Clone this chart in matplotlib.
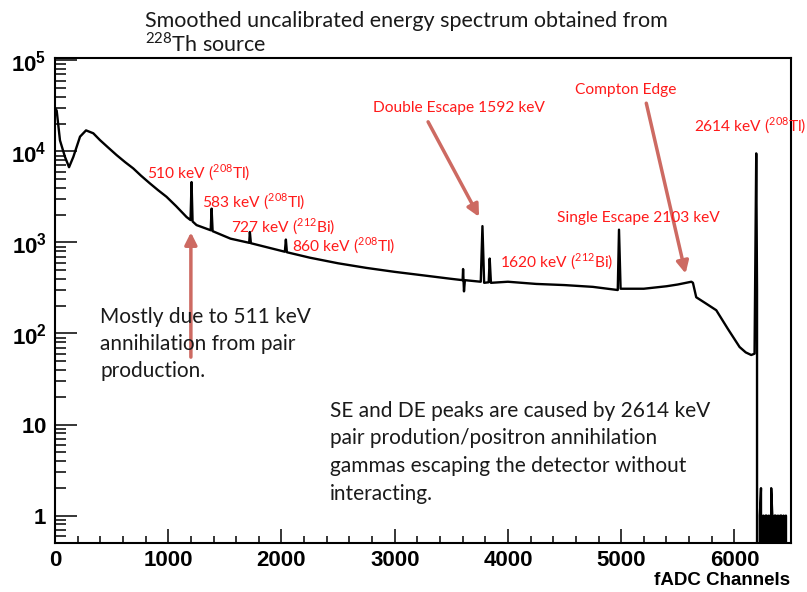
import numpy as np
import matplotlib
matplotlib.use("Agg")
import matplotlib.pyplot as plt
from matplotlib.ticker import FixedLocator, FixedFormatter, MultipleLocator

plt.rcParams['mathtext.fontset'] = 'custom'
plt.rcParams['mathtext.rm'] = 'Lato'
plt.rcParams['mathtext.bf'] = 'Liberation Sans:bold'

# ---------------- data ----------------
channels = [0, 15, 44, 88, 124, 162, 221, 274, 338, 397, 470, 544, 620, 691,
            760, 838, 910, 985, 1070, 1162, 1197, 1206, 1215, 1250, 1375,
            1383, 1392, 1550, 1715, 1721, 1730, 2030, 2039, 2048, 2250, 2500,
            2750, 3000, 3250, 3486, 3600, 3604, 3612, 3620, 3760, 3775, 3790,
            3830, 3839, 3850, 4000, 4250, 4500, 4750, 4970, 4981, 4995, 5200,
            5400, 5500, 5620, 5634, 5663, 5750, 5840, 5943, 6046, 6100, 6149,
            6178, 6186, 6193, 6200, 6206]
counts = [30000, 28000, 13200, 8700, 6700, 8700, 14500, 17000, 15800, 13300,
          11000, 9100, 7600, 6500, 5400, 4450, 3750, 3170, 2500, 1900, 1760,
          4600, 1700, 1550, 1360, 2350, 1330, 1100, 990, 1300, 980, 790, 1075,
          780, 680, 590, 525, 475, 435, 400, 385, 510, 290, 385, 370, 1510,
          360, 365, 665, 360, 370, 350, 340, 325, 300, 1380, 310, 310, 330,
          345, 370, 360, 250, 213, 180, 112, 71, 62, 58, 60, 900, 9500, 300, 0]

# single counts past the 2614 keV peak
tail_channels = [6215, 6225, 6235, 6245, 6255, 6265, 6275, 6285, 6295, 6305,
                 6315, 6325, 6335, 6345, 6355, 6365, 6375, 6385, 6395, 6405,
                 6415, 6425, 6435, 6445, 6455, 6465]
tail_counts = [0, 1, 2, 0, 1, 0, 1, 1, 0, 1, 0, 2, 1, 0, 1, 1, 0, 1, 0, 1,
               1, 0, 1, 0, 1, 0]

y_ticks = [1, 10, 100, 1000, 10000, 100000]
y_tick_labels = [r'$\mathbf{1}$', r'$\mathbf{10}$', r'$\mathbf{10^{2}}$',
                 r'$\mathbf{10^{3}}$', r'$\mathbf{10^{4}}$', r'$\mathbf{10^{5}}$']

red_labels = [("510 keV ($^{208}$Tl)", 147, 178),
              ("583 keV ($^{208}$Tl)", 202, 207),
              ("727 keV ($^{212}$Bi)", 231, 232),
              ("860 keV ($^{208}$Tl)", 292, 251),
              ("Double Escape 1592 keV", 373, 112),
              ("Compton Edge", 575, 94),
              ("2614 keV ($^{208}$Tl)", 694, 131),
              ("Single Escape 2103 keV", 557, 222),
              ("1620 keV ($^{212}$Bi)", 500, 267)]

note1 = ["Mostly due to 511 keV", "annihilation from pair", "production."]
note2 = ["SE and DE peaks are caused by 2614 keV",
         "pair prodution/positron annihilation",
         "gammas escaping the detector without",
         "interacting."]
title_lines = ["Smoothed uncalibrated energy spectrum obtained from",
               "$^{228}$Th source"]

# arrows: (tail channel, tail count) -> (head channel, head count)
arrows = [((1200, 55), (1200, 1290)),
          ((3295, 21100), (3745, 1910)),
          ((5222, 33800), (5569, 455))]

W, H = 807, 592
fig = plt.figure(figsize=(W / 100, H / 100), dpi=100)
ax = fig.add_axes([55 / W, 1 - 543 / H, (791 - 55) / W, (543 - 58) / H])

x = channels + tail_channels
y = counts + tail_counts
ax.plot(x, y, color='black', lw=1.7)

ax.set_yscale('log', nonpositive='clip')
ax.set_xlim(0, 6500)
ax.set_ylim(0.5, 1.06e5)

ax.yaxis.set_major_locator(FixedLocator(y_ticks))
ax.yaxis.set_major_formatter(FixedFormatter(y_tick_labels))
minors = [m * 10.0 ** e for e in range(-1, 5) for m in range(2, 10)]
ax.yaxis.set_minor_locator(FixedLocator([v for v in minors if v > 0.5]))
ax.yaxis.set_minor_formatter(FixedFormatter([]))
ax.xaxis.set_major_locator(MultipleLocator(1000))
ax.xaxis.set_minor_locator(MultipleLocator(200))

ax.tick_params(axis='y', which='major', direction='in', length=16, width=1.1,
               labelsize=16, pad=6)
ax.tick_params(axis='y', which='minor', direction='in', length=8, width=1.1)
ax.tick_params(axis='x', which='major', direction='in', length=10, width=1.1,
               labelsize=16, pad=5)
ax.tick_params(axis='x', which='minor', direction='in', length=5, width=1.1)
for lab in ax.get_xticklabels():
    lab.set_fontfamily('Liberation Sans')
    lab.set_fontweight('bold')
for s in ax.spines.values():
    s.set_linewidth(1.5)

fig.text(790 / W, 1 - 585 / H, "fADC Channels", ha='right', va='baseline',
         fontsize=13.5, fontweight='bold', family='Liberation Sans')

def px(xp, yp):
    return xp / W, 1 - yp / H

for i, line in enumerate(title_lines):
    fig.text(*px(145, 26.7 + 25 * i), line, fontsize=15.5, family='Lato',
             va='baseline', color='#1a1a1a')

for txt, xp, yp in red_labels:
    fig.text(*px(xp, yp), txt, fontsize=11.2, family='Lato', color='#ff1a1a',
             va='baseline')

for i, line in enumerate(note1):
    fig.text(*px(100, 322.7 + 27.2 * i), line, fontsize=15, family='Lato',
             va='baseline', color='#1a1a1a')
for i, line in enumerate(note2):
    fig.text(*px(330, 416.7 + 27.8 * i), line, fontsize=15, family='Lato',
             va='baseline', color='#1a1a1a')

for tail, head in arrows:
    ax.annotate("", xy=head, xytext=tail,
                arrowprops=dict(arrowstyle='-|>', color='#cd6a62', lw=2.5,
                                mutation_scale=18, shrinkA=0, shrinkB=0))

fig.savefig("out.png", dpi=100)
